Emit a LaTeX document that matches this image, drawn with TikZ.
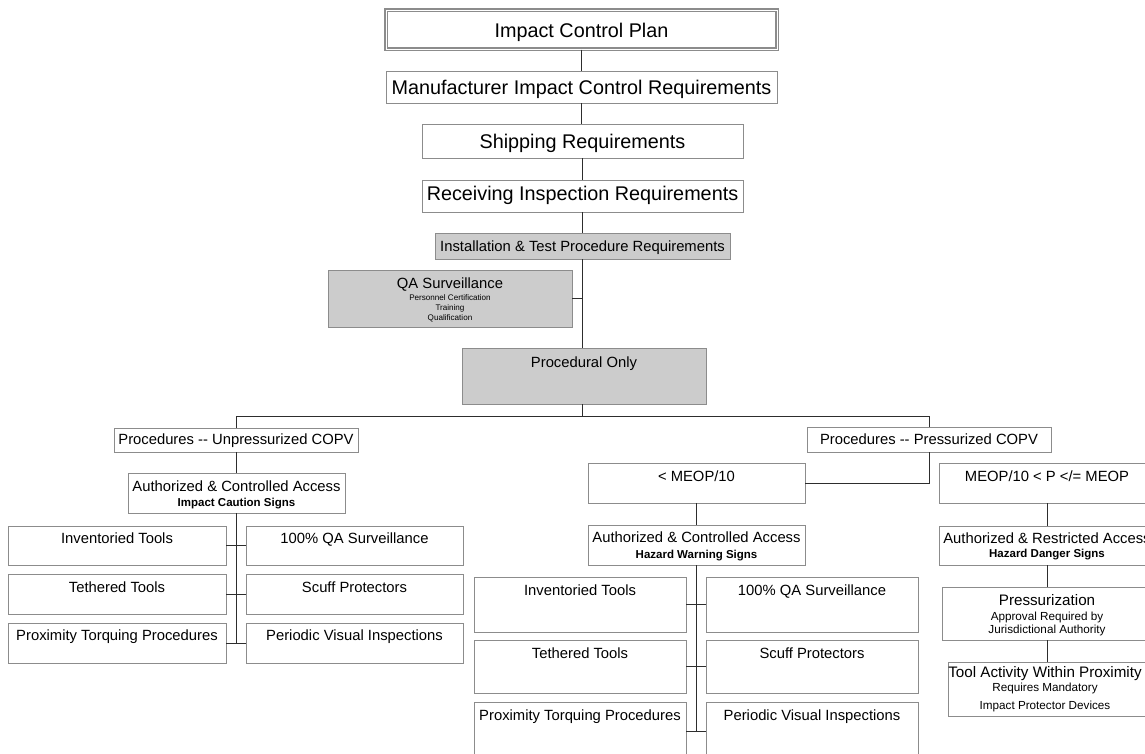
\documentclass[tikz,border=0pt]{standalone}
\usepackage{fontspec}
\setmainfont{Liberation Sans}
\usetikzlibrary{fit}
\definecolor{edgegray}{RGB}{140,140,140}
\definecolor{shade}{RGB}{204,204,204}
\definecolor{wire}{RGB}{45,45,45}

\begin{document}
\begin{tikzpicture}[x=1pt,y=-1pt,
  box/.style={draw=edgegray, line width=0.9pt, fill=white, inner sep=0pt},
  shaded/.style={box, fill=shade},
  frame/.style={draw=edgegray, line width=1.4pt, double=white, double distance=0.9pt, inner sep=0pt},
  conn/.style={draw=wire, line width=0.9pt},
  t/.style={anchor=base, inner sep=0pt, font=\fontsize{14.8}{17}\selectfont},
  big/.style={anchor=base, inner sep=0pt, font=\fontsize{19.8}{22}\selectfont},
  sub/.style={anchor=base, inner sep=0pt, font=\bfseries\fontsize{11.5}{13}\selectfont},
  note/.style={anchor=base, inner sep=0pt, font=\fontsize{11.7}{13}\selectfont},
  tiny/.style={anchor=base, inner sep=0pt, font=\fontsize{8.1}{10}\selectfont},
  head/.style={anchor=base, inner sep=0pt, font=\fontsize{15.2}{17}\selectfont},
]
\useasboundingbox (0,0) rectangle (1145,753);
\clip (0,0) rectangle (1145,753);
\fill[white] (0,0) rectangle (1145,753);

% ---- main chain ----
\node[frame,  fit={(386,10) (777,49)}]   (icp) {};
\node[box,    fit={(386,71) (777,103)}]  (mfr) {};
\node[box,    fit={(422,124) (743,158)}] (ship) {};
\node[box,    fit={(422,180) (743,212)}] (rcv) {};
\node[shaded, fit={(435,233) (730,259)}] (inst) {};
\node[shaded, fit={(328,270) (572,327)}] (qa) {};
\node[shaded, fit={(462,348) (706,404)}] (proc) {};

% ---- unpressurized branch ----
\node[box, fit={(114,428) (358,452)}] (unp) {};
\node[box, fit={(128,473) (345,513)}] (acaL) {};
\node[box, fit={(8,526) (226,565)}]   (li1) {};
\node[box, fit={(246,526) (463,565)}] (lq1) {};
\node[box, fit={(8,574) (226,614)}]   (li2) {};
\node[box, fit={(246,574) (463,614)}] (lq2) {};
\node[box, fit={(8,623) (226,663)}]   (li3) {};
\node[box, fit={(246,623) (463,663)}] (lq3) {};

% ---- pressurized branch ----
\node[box, fit={(807,427) (1051,452)}] (pres) {};
\node[box, fit={(588,463) (805,503)}]  (lt10) {};
\node[box, fit={(939,463) (1155,503)}] (meop) {};
\node[box, fit={(588,525) (805,565)}]  (acaM) {};
\node[box, fit={(474,577) (686,632)}]  (mi1) {};
\node[box, fit={(706,577) (918,632)}]  (mq1) {};
\node[box, fit={(474,640) (686,693)}]  (mi2) {};
\node[box, fit={(706,640) (918,693)}]  (mq2) {};
\node[box, fit={(474,702) (686,760)}]  (mi3) {};
\node[box, fit={(706,702) (918,760)}]  (mq3) {};
\node[box, fit={(939,526) (1155,565)}] (acaR) {};
\node[box, fit={(942,587) (1152,640)}] (prz) {};
\node[box, fit={(948,662) (1146,716)}] (tool) {};

% ---- connectors ----
\draw[conn] (icp.south) -- (icp.south |- mfr.north);
\draw[conn] (mfr.south) -- (mfr.south |- ship.north);
\draw[conn] (ship.south) -- (ship.south |- rcv.north);
\draw[conn] (rcv.south) -- (rcv.south |- inst.north);
\draw[conn] (inst.south) -- (inst.south |- proc.north);
\draw[conn] (qa.east) -- (qa.east -| inst.south);
\coordinate (bus) at (583,416);
\draw[conn] (inst.south |- proc.south) -- (inst.south |- bus);
\draw[conn] (unp.north) -- (unp.north |- bus) -- (pres.north |- bus) -- (pres.north);

\draw[conn] (unp.south) -- (unp.south |- acaL.north);
\draw[conn] (acaL.south) -- (acaL.south |- lq3.west);
\draw[conn] (li1.east) -- (lq1.west);
\draw[conn] (li2.east) -- (lq2.west);
\draw[conn] (li3.east) -- (lq3.west);

\draw[conn] (pres.south) |- (lt10.east);
\draw[conn] (lt10.south) -- (lt10.south |- acaM.north);
\draw[conn] (acaM.south) -- (acaM.south |- mq3.west);
\draw[conn] (mi1.east) -- (mq1.west);
\draw[conn] (mi2.east) -- (mq2.west);
\draw[conn] (mi3.east) -- (mq3.west);

\draw[conn] (meop.south) -- (meop.south |- acaR.north);
\draw[conn] (acaR.south) -- (acaR.south |- prz.north);
\draw[conn] (prz.south) -- (prz.south |- tool.north);

% ---- texts ----
\node[big] (icp-t)  at (581.5,37)   {Impact Control Plan};
\node[big] (mfr-t)  at (581.5,94)   {Manufacturer Impact Control Requirements};
\node[big] (ship-t) at (582.5,148)  {Shipping Requirements};
\node[big] (rcv-t)  at (582.5,200.5){Receiving Inspection Requirements};
\node[t]   (inst-t) at (582.5,251.5){Installation \& Test Procedure Requirements};
\node[t]    (qa-t)  at (450,288)    {QA Surveillance};
\node[tiny] (qa-s1) at (450,300)    {Personnel Certification};
\node[tiny] (qa-s2) at (450,310.3)  {Training};
\node[tiny] (qa-s3) at (450,320.3)  {Qualification};
\node[t]   (proc-t) at (584,367.5)  {Procedural Only};

\node[t]   (unp-t)  at (236,444)    {Procedures {-}{-} Unpressurized COPV};
\node[t]   (acaL-t) at (236.5,491.5){Authorized \& Controlled Access};
\node[sub] (acaL-s) at (236.5,506)  {Impact Caution Signs};
\node[t] (li1-t) at (117,543)   {Inventoried Tools};
\node[t] (lq1-t) at (354.5,543) {100\% QA Surveillance};
\node[t] (li2-t) at (117,592)   {Tethered Tools};
\node[t] (lq2-t) at (354.5,592) {Scuff Protectors};
\node[t] (li3-t) at (117,640)   {Proximity Torquing Procedures};
\node[t] (lq3-t) at (354.5,640) {Periodic Visual Inspections};

\node[t]   (pres-t) at (929,444)    {Procedures {-}{-} Pressurized COPV};
\node[t]   (lt10-t) at (696.5,481.5){< MEOP/10};
\node[t]   (meop-t) at (1047,481.5) {MEOP/10 < P </= MEOP};
\node[t]   (acaM-t) at (696.5,542.5){Authorized \& Controlled Access};
\node[sub] (acaM-s) at (696.5,558)  {Hazard Warning Signs};
\node[t] (mi1-t) at (580,595.5) {Inventoried Tools};
\node[t] (mq1-t) at (812,595.5) {100\% QA Surveillance};
\node[t] (mi2-t) at (580,658)   {Tethered Tools};
\node[t] (mq2-t) at (812,658)   {Scuff Protectors};
\node[t] (mi3-t) at (580,720)   {Proximity Torquing Procedures};
\node[t] (mq3-t) at (812,720)   {Periodic Visual Inspections};

\node[t]    (acaR-t) at (1047,543)    {Authorized \& Restricted Access};
\node[sub]  (acaR-s) at (1047,557.5)  {Hazard Danger Signs};
\node[head] (prz-t)  at (1047,605.5)  {Pressurization};
\node[note] (prz-s1) at (1047,620)    {Approval Required by};
\node[note] (prz-s2) at (1047,633.5)  {Jurisdictional Authority};
\node[head] (tool-t) at (1045,677.3)  {Tool Activity Within Proximity};
\node[note] (tool-s1) at (1045,691.5) {Requires Mandatory};
\node[note] (tool-s2) at (1045,709)   {Impact Protector Devices};
\end{tikzpicture}
\end{document}
